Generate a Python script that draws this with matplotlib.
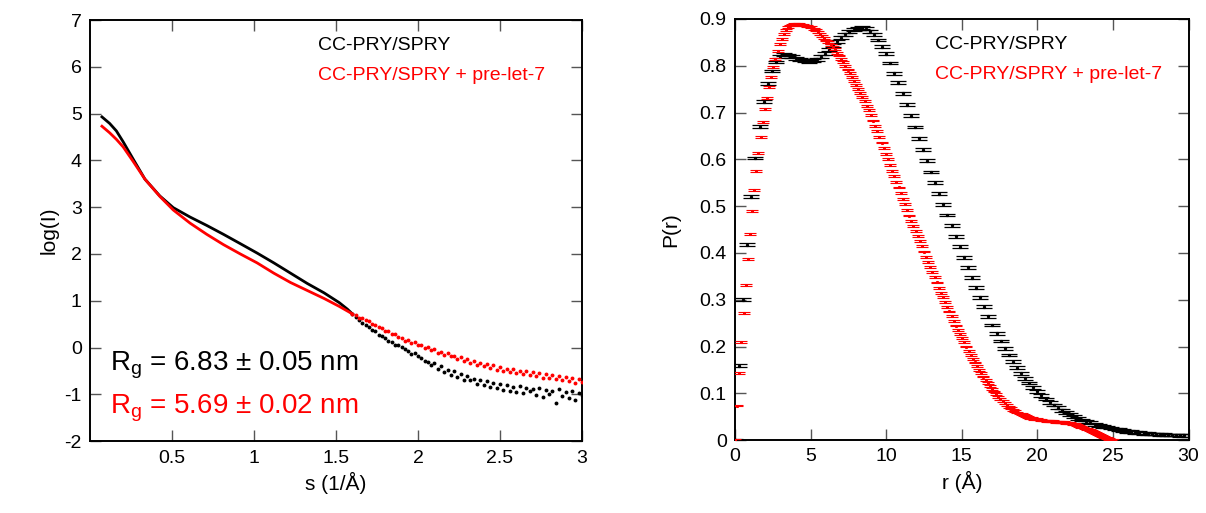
import numpy as np
import matplotlib
matplotlib.use("Agg")
import matplotlib.pyplot as plt

plt.rcParams["font.family"] = ["Liberation Sans", "DejaVu Sans"]
plt.rcParams["mathtext.fontset"] = "custom"
plt.rcParams["mathtext.rm"] = "Liberation Sans"
plt.rcParams["axes.unicode_minus"] = False

# ---- left panel: scattering curves log(I) vs s ----
s_smooth = [0.073, 0.12, 0.161, 0.202, 0.263, 0.335, 0.426, 0.508, 0.61, 0.712,
            0.814, 0.917, 1.019, 1.121, 1.223, 1.325, 1.427, 1.52, 1.57, 1.60]
logi_black_smooth = [4.93, 4.79, 4.63, 4.40, 4.03, 3.60, 3.24, 2.99, 2.79, 2.61,
                     2.42, 2.22, 2.02, 1.81, 1.59, 1.37, 1.17, 0.96, 0.82, 0.72]
logi_red_smooth = [4.73, 4.59, 4.45, 4.29, 3.98, 3.60, 3.23, 2.94, 2.66, 2.42,
                   2.20, 2.00, 1.81, 1.59, 1.39, 1.22, 1.05, 0.88, 0.78, 0.72]

s_tail = np.linspace(1.60, 3.00, 71)
logi_black_tail = [0.72, 0.65, 0.60, 0.52, 0.49, 0.44, 0.37, 0.35, 0.27, 0.25,
                   0.20, 0.14, 0.13, 0.05, 0.06, 0.01, -0.04, -0.07, -0.13, -0.11,
                   -0.19, -0.22, -0.28, -0.31, -0.38, -0.34, -0.45, -0.40, -0.52, -0.48,
                   -0.58, -0.51, -0.62, -0.57, -0.69, -0.60, -0.70, -0.67, -0.78, -0.69,
                   -0.80, -0.71, -0.84, -0.75, -0.86, -0.78, -0.90, -0.79, -0.92, -0.84,
                   -0.95, -0.82, -0.98, -0.87, -0.93, -0.88, -1.02, -0.86, -1.05, -0.91,
                   -1.00, -0.92, -1.18, -0.89, -1.04, -0.95, -1.08, -0.93, -1.12, -0.96,
                   -1.02]
logi_red_tail = [0.72, 0.70, 0.64, 0.63, 0.58, 0.56, 0.50, 0.49, 0.43, 0.42,
                 0.36, 0.35, 0.29, 0.28, 0.22, 0.21, 0.15, 0.16, 0.09, 0.11,
                 0.05, 0.06, 0.00, 0.01, -0.06, -0.04, -0.11, -0.09, -0.15, -0.12,
                 -0.19, -0.17, -0.24, -0.20, -0.28, -0.25, -0.33, -0.28, -0.37, -0.33,
                 -0.40, -0.36, -0.43, -0.38, -0.47, -0.41, -0.49, -0.45, -0.53, -0.46,
                 -0.55, -0.49, -0.57, -0.50, -0.59, -0.53, -0.60, -0.55, -0.64, -0.56,
                 -0.65, -0.58, -0.67, -0.60, -0.70, -0.63, -0.71, -0.65, -0.75, -0.67,
                 -0.73]

# ---- right panel: pair distance distributions P(r) ----
pr_black = [0.0, 0.159, 0.30, 0.418, 0.52, 0.603, 0.67, 0.723, 0.762, 0.789,
            0.808, 0.82, 0.824, 0.823, 0.82, 0.816, 0.813, 0.811, 0.81, 0.811,
            0.814, 0.819, 0.826, 0.834, 0.843, 0.852, 0.86, 0.867, 0.873, 0.877,
            0.88, 0.881, 0.879, 0.874, 0.866, 0.855, 0.841, 0.826, 0.806, 0.784,
            0.764, 0.741, 0.717, 0.693, 0.669, 0.645, 0.621, 0.597, 0.573, 0.55,
            0.527, 0.504, 0.481, 0.459, 0.436, 0.413, 0.391, 0.369, 0.347, 0.326,
            0.305, 0.285, 0.265, 0.246, 0.228, 0.212, 0.196, 0.182, 0.168, 0.155,
            0.143, 0.132, 0.122, 0.113, 0.104, 0.096, 0.088, 0.081, 0.075, 0.069,
            0.064, 0.059, 0.054, 0.05, 0.046, 0.043, 0.04, 0.037, 0.034, 0.032,
            0.03, 0.028, 0.026, 0.024, 0.022, 0.021, 0.019, 0.018, 0.017, 0.016,
            0.015, 0.014, 0.013, 0.013, 0.012, 0.012, 0.011, 0.011, 0.011, 0.01,
            0.01, 0.01]
pr_red = [0.0, 0.074, 0.143, 0.209, 0.272, 0.332, 0.388, 0.441, 0.49, 0.535,
          0.576, 0.614, 0.648, 0.679, 0.707, 0.732, 0.755, 0.776, 0.797, 0.815,
          0.832, 0.846, 0.858, 0.868, 0.876, 0.882, 0.886, 0.888, 0.889, 0.889,
          0.889, 0.888, 0.887, 0.886, 0.885, 0.884, 0.882, 0.879, 0.876, 0.872,
          0.868, 0.864, 0.859, 0.854, 0.85, 0.845, 0.84, 0.835, 0.828, 0.822,
          0.815, 0.808, 0.80, 0.792, 0.784, 0.776, 0.768, 0.759, 0.751, 0.742,
          0.733, 0.724, 0.714, 0.705, 0.694, 0.683, 0.671, 0.66, 0.648, 0.636,
          0.624, 0.612, 0.60, 0.588, 0.576, 0.564, 0.552, 0.54, 0.528, 0.516,
          0.504, 0.492, 0.48, 0.469, 0.458, 0.447, 0.436, 0.425, 0.414, 0.403,
          0.392, 0.381, 0.37, 0.359, 0.348, 0.337, 0.326, 0.315, 0.305, 0.295,
          0.285, 0.275, 0.265, 0.255, 0.245, 0.236, 0.227, 0.218, 0.209, 0.20,
          0.191, 0.182, 0.174, 0.166, 0.158, 0.15, 0.143, 0.136, 0.129, 0.122,
          0.116, 0.11, 0.104, 0.098, 0.093, 0.088, 0.083, 0.079, 0.075, 0.071,
          0.068, 0.065, 0.062, 0.059, 0.057, 0.055, 0.053, 0.051, 0.05, 0.048,
          0.047, 0.046, 0.045, 0.044, 0.043, 0.042, 0.042, 0.041, 0.041, 0.04,
          0.04, 0.039, 0.039, 0.039, 0.038, 0.038, 0.037, 0.037, 0.036, 0.035,
          0.034, 0.033, 0.031, 0.029, 0.027, 0.025, 0.023, 0.021, 0.019, 0.017,
          0.015, 0.013, 0.011, 0.009, 0.007, 0.005, 0.003, 0.0015, 0.0]
r_black = np.linspace(0, 30, len(pr_black))
r_red = np.linspace(0, 25, len(pr_red))
err_black = 0.003
err_red = 0.002

label_black = "CC-PRY/SPRY"
label_red = "CC-PRY/SPRY + pre-let-7"
rg_black = r"R$_\mathregular{g}$ = 6.83 ± 0.05 nm"
rg_red = r"R$_\mathregular{g}$ = 5.69 ± 0.02 nm"

RED = "#ff0000"

fig = plt.figure(figsize=(12.06, 5.13), dpi=100)
ax1 = fig.add_axes([0.0746, 0.140, 0.408, 0.821])
ax2 = fig.add_axes([0.6095, 0.142, 0.376, 0.821])

# left
ax1.plot(s_smooth, logi_black_smooth, color="black", lw=2.0, zorder=3)
ax1.plot(s_tail, logi_black_tail, ls="none", marker="o", ms=2.8, mew=0, color="black", zorder=3)
ax1.plot(s_smooth, logi_red_smooth, color=RED, lw=2.0, zorder=4)
ax1.plot(s_tail, logi_red_tail, ls="none", marker="o", ms=2.8, mew=0, color=RED, zorder=4)
ax1.set_xlim(0, 3)
ax1.set_ylim(-2, 7)
ax1.set_xticks([0.5, 1, 1.5, 2, 2.5, 3])
ax1.set_xticklabels(["0.5", "1", "1.5", "2", "2.5", "3"])
ax1.set_yticks(range(-2, 8))
ax1.set_xlabel("s (1/Å)", fontsize=15)
ax1.set_ylabel("log(I)", fontsize=15)
ax1.text(0.463, 0.94, label_black, transform=ax1.transAxes, fontsize=14,
         color="black", va="center")
ax1.text(0.463, 0.869, label_red, transform=ax1.transAxes, fontsize=14,
         color=RED, va="center")
ax1.text(0.041, 0.18, rg_black, transform=ax1.transAxes, fontsize=20,
         color="black", va="center")
ax1.text(0.041, 0.078, rg_red, transform=ax1.transAxes, fontsize=20,
         color=RED, va="center")

# right
ax2.errorbar(r_black, pr_black, yerr=err_black, fmt="s", ms=1.3, color="black",
             ecolor="black", elinewidth=0.8, capsize=5.5, capthick=0.9, zorder=3)
ax2.errorbar(r_red, pr_red, yerr=err_red, fmt="s", ms=1.2, color=RED,
             ecolor=RED, elinewidth=0.8, capsize=4.5, capthick=0.8, zorder=4)
ax2.set_xlim(0, 30)
ax2.set_ylim(0, 0.9)
ax2.set_xticks(range(0, 31, 5))
ax2.set_yticks(np.arange(0, 0.91, 0.1))
ax2.set_yticklabels(["0", "0.1", "0.2", "0.3", "0.4", "0.5", "0.6", "0.7", "0.8", "0.9"])
ax2.set_xlabel("r (Å)", fontsize=15)
ax2.set_ylabel("P(r)", fontsize=15, labelpad=14)
ax2.text(0.44, 0.94, label_black, transform=ax2.transAxes, fontsize=14,
         color="black", va="center")
ax2.text(0.44, 0.869, label_red, transform=ax2.transAxes, fontsize=14,
         color=RED, va="center")

for ax in (ax1, ax2):
    for sp in ax.spines.values():
        sp.set_linewidth(1.4)
    ax.tick_params(direction="in", top=True, right=True, length=8, width=1.0,
                   color="#555555", labelsize=14, pad=6)

fig.savefig("out.png", dpi=100)
